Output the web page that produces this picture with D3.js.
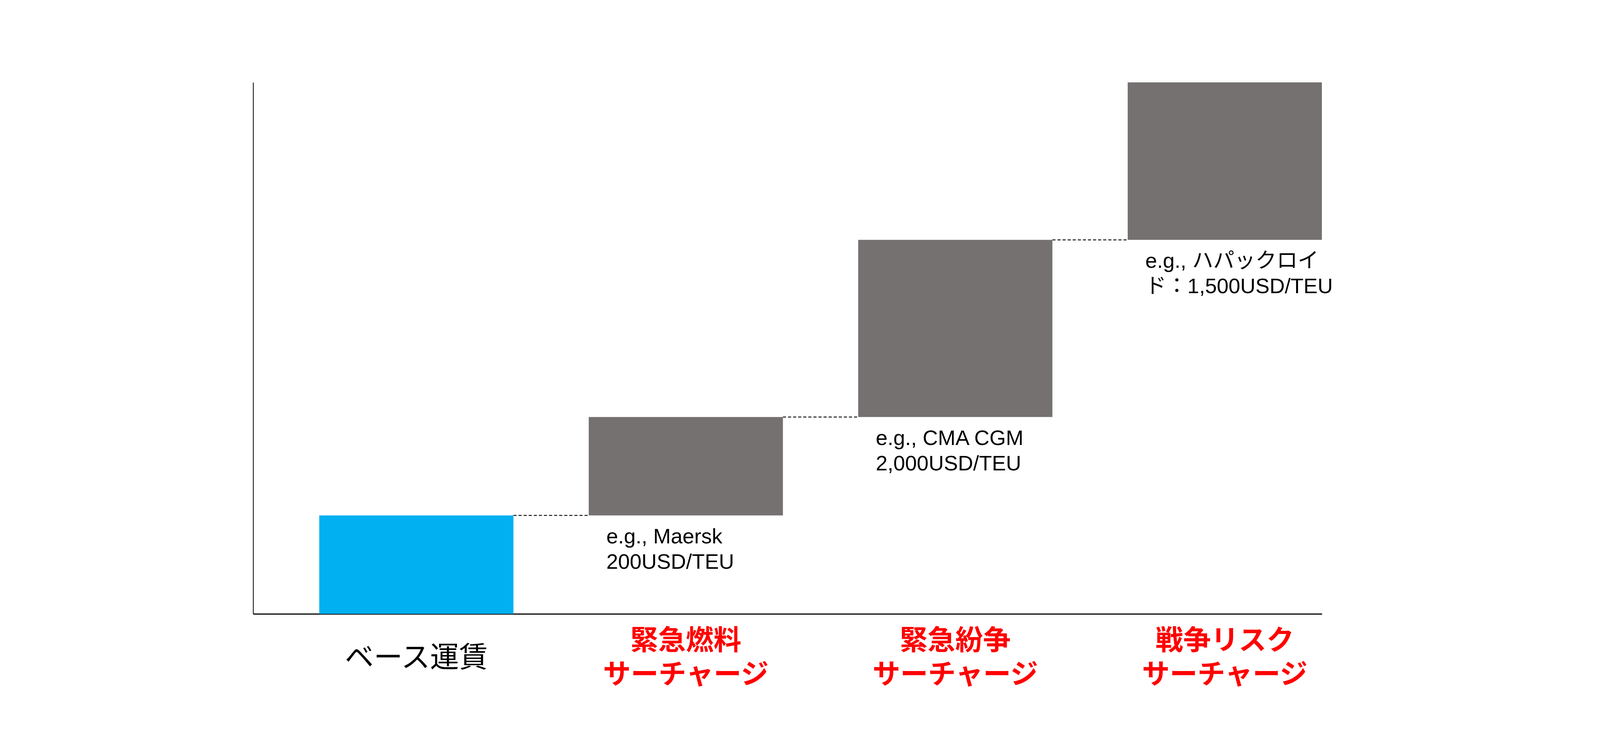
<!DOCTYPE html>
<html lang="ja">
<head>
<meta charset="utf-8">
<title>サーチャージ</title>
<script src="https://cdn.jsdelivr.net/npm/d3@7"></script>
<style>
  html, body { margin: 0; padding: 0; background: #ffffff; }
  svg { display: block; }
</style>
</head>
<body>
<svg id="chart" width="4106" height="1911"></svg>
<script>
// Chart data (schematic step heights)
const categories = ["ベース運賃", "緊急燃料サーチャージ", "緊急紛争サーチャージ", "戦争リスクサーチャージ"];
const stepValues = [25, 25, 45, 40];
const categoryLines = [
  ["ベース運賃"],
  ["緊急燃料", "サーチャージ"],
  ["緊急紛争", "サーチャージ"],
  ["戦争リスク", "サーチャージ"]
];
const noteLines = [
  [],
  ["e.g., Maersk", "200USD/TEU"],
  ["e.g., CMA CGM", "2,000USD/TEU"],
  ["e.g., ハパックロイ", "ド：1,500USD/TEU"]
];
const isSurcharge = [false, true, true, true];

const svg = d3.select("#chart");
const width = +svg.attr("width");
const height = +svg.attr("height");
const margin = { top: 211, right: 722, bottom: 338.5, left: 648 };

const latinFont = "'Liberation Sans', Arial, 'Noto Sans CJK JP', sans-serif";
const jpFont = "'Noto Sans CJK JP', 'Noto Sans CJK SC', sans-serif";

// running totals for the waterfall
let running = 0;
const steps = stepValues.map((v, i) => {
  const start = running;
  running += v;
  return { cat: categories[i], start: start, end: running, i: i };
});

const x = d3.scaleBand()
  .domain(categories)
  .range([margin.left, width - margin.right])
  .paddingInner(0.2794)
  .paddingOuter(0.1227)
  .align(1);

const y = d3.scaleLinear()
  .domain([0, running])
  .range([height - margin.bottom, margin.top]);

// axes, no ticks
const xAxis = svg.append("g")
  .attr("transform", `translate(0,${height - margin.bottom})`)
  .call(d3.axisBottom(x).tickSize(0).tickSizeOuter(0).tickFormat(""));
xAxis.select(".domain").attr("stroke", "#000").attr("stroke-width", 3);

const yAxis = svg.append("g")
  .attr("transform", `translate(${margin.left},0)`)
  .call(d3.axisLeft(y).ticks(0).tickSizeOuter(0));
yAxis.select(".domain").attr("stroke", "#000").attr("stroke-width", 2);

// dashed connectors between steps
svg.append("g")
  .selectAll("line")
  .data(steps.slice(0, -1))
  .enter()
  .append("line")
  .attr("x1", d => x(d.cat) + x.bandwidth())
  .attr("x2", d => x(categories[d.i + 1]))
  .attr("y1", d => y(d.end))
  .attr("y2", d => y(d.end))
  .attr("stroke", "#1a1a1a")
  .attr("stroke-width", 2.5)
  .attr("stroke-dasharray", "8,5");

// bars
svg.append("g")
  .selectAll("rect")
  .data(steps)
  .enter()
  .append("rect")
  .attr("x", d => x(d.cat))
  .attr("width", x.bandwidth())
  .attr("y", d => y(d.end))
  .attr("height", d => y(d.start) - y(d.end))
  .attr("fill", d => d.i === 0 ? "#00B0F0" : "#767171");

// example notes under each surcharge bar
const notes = svg.append("g")
  .selectAll("text")
  .data(steps.filter(d => noteLines[d.i].length))
  .enter()
  .append("text")
  .attr("x", d => x(d.cat) + 45)
  .attr("y", d => y(d.start) + 72)
  .style("font-family", latinFont)
  .style("font-size", "54px")
  .attr("fill", "#000");

notes.selectAll("tspan")
  .data(d => noteLines[d.i].map((t, k) => ({ t: t, k: k, x: x(d.cat) + 45 })))
  .enter()
  .append("tspan")
  .attr("x", d => d.x)
  .attr("dy", d => d.k === 0 ? 0 : 65)
  .text(d => d.t);

// category labels below the axis, one text per line
const labelCentre = 1681;
const lineGap = 87;

const labelRows = [];
steps.forEach(d => {
  const n = categoryLines[d.i].length;
  categoryLines[d.i].forEach((t, k) => {
    labelRows.push({
      t: t,
      i: d.i,
      cx: x(d.cat) + x.bandwidth() / 2,
      cy: labelCentre + (k - (n - 1) / 2) * lineGap,
      size: isSurcharge[d.i] ? 71 : 74
    });
  });
});

svg.append("g")
  .selectAll("text")
  .data(labelRows)
  .enter()
  .append("text")
  .attr("text-anchor", "middle")
  .attr("x", d => d.cx)
  .attr("y", d => d.cy + 0.38 * d.size)
  .style("font-family", jpFont)
  .style("font-size", d => d.size + "px")
  .style("font-weight", d => isSurcharge[d.i] ? "700" : "400")
  .attr("fill", d => isSurcharge[d.i] ? "#FF0000" : "#000")
  .text(d => d.t);
</script>
</body>
</html>
